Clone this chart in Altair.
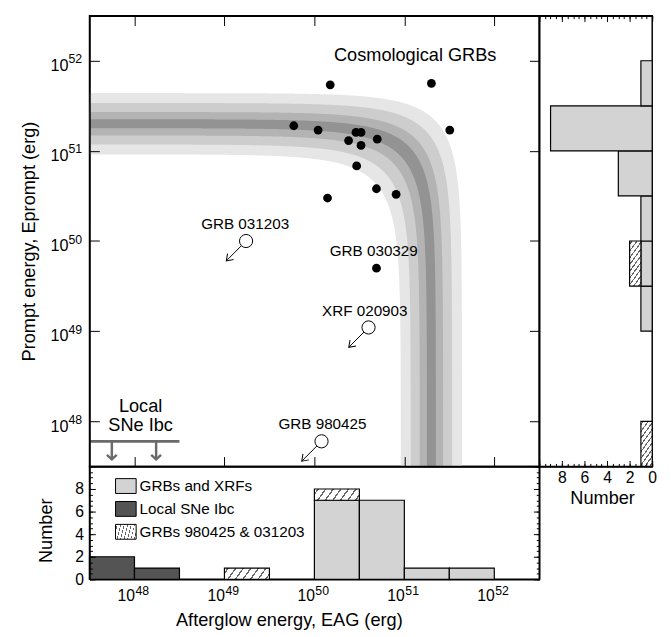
import json
import altair as alt
import numpy as np
import pandas as pd

# ---------------- values ----------------
# Cosmological GRBs (filled dots): afterglow energy, prompt energy (erg)
GRB_EAG = [1.5e50, 2.0e51, 5.9e49, 1.1e50, 2.9e50, 3.3e50, 2.4e50, 3.3e50,
           5.0e50, 3.2e51, 2.95e50, 4.9e50, 8.1e50, 1.4e50, 4.9e50]
GRB_EP = [5.4e51, 5.6e51, 1.9e51, 1.7e51, 1.6e51, 1.6e51, 1.3e51, 1.15e51,
          1.35e51, 1.7e51, 6.8e50, 3.8e50, 3.3e50, 3.0e50, 5.0e49]

# upper limits (open circles)
LIMIT_NAMES = ["GRB 031203", "XRF 020903", "GRB 980425"]
LIMIT_EAG = [1.74e49, 4.0e50, 1.2e50]
LIMIT_EP = [1.0e50, 1.1e49, 6.0e47]

# local SNe Ibc (upper limits)
SNE_EAG = [5.6e47, 1.74e48]
SNE_EP_LIMIT = 6.0e47
SNE_EAG_RANGE = [10 ** 47.5, 10 ** 48.5]

# total-energy band  (E_prompt + E_AG = const)
TOTAL_ENERGY = 2.0e51
BAND_HALF_WIDTH_DEX = [0.34, 0.23, 0.13, 0.05]
BAND_FILLS = ["#e6e6e6", "#cdcdcd", "#b3b3b3", "#939393"]

# histograms, bins of half a decade from 10^47.5 to 10^52.5
LOG_BIN_EDGES = [47.5, 48.0, 48.5, 49.0, 49.5, 50.0, 50.5, 51.0, 51.5, 52.0, 52.5]
AG_GRB_COUNTS = [0, 0, 0, 0, 0, 7, 7, 1, 1, 0]
AG_SNE_COUNTS = [2, 1, 0, 0, 0, 0, 0, 0, 0, 0]
AG_PEC_COUNTS = [0, 0, 0, 1, 0, 1, 0, 0, 0, 0]
PROMPT_GRB_COUNTS = [0, 0, 0, 1, 1, 1, 3, 9, 1, 0]
PROMPT_PEC_COUNTS = [1, 0, 0, 0, 1, 0, 0, 0, 0, 0]

CATS = ["GRBs and XRFs", "Local SNe Ibc", "GRBs 980425 & 031203"]

DECADES = [1e48, 1e49, 1e50, 1e51, 1e52]
COUNT_LABELS = [0, 2, 4, 6, 8]
COUNT_MAJOR = [0, 2, 4, 6, 8, 10]
COUNT_MINOR = [i * 0.5 for i in range(21)]

# annotation texts
BIG_TEXT = ["Cosmological GRBs", "Local", "SNe Ibc"]
BIG_EAG = [1.32e51, 1.17e48, 1.17e48]
BIG_EP = [1.14e52, 1.48e48, 9.1e47]
SMALL_TEXT = ["GRB 031203", "GRB 030329", "XRF 020903", "GRB 980425"]
SMALL_EAG = [1.7e49, 4.57e50, 3.63e50, 1.23e50]
SMALL_EP = [1.55e50, 7.8e49, 1.66e49, 9.3e47]

# ---------------- styling ----------------
FONT = "Liberation Sans"
W, H = 458, 459
SIDE_W = 115
BOT_H = 115
LOG_LO, LOG_HI = 47.5, 52.5
E_DOMAIN = [10 ** LOG_LO, 10 ** LOG_HI]
GRAY_BAR = "#d3d3d3"
DARK_BAR = "#545454"
SNE_GRAY = "#6a6a6a"
EXP_SIZE = 12.5


def hatch_stops(n, delta, line="#666666", bg="#ffffff"):
    stops = [{"offset": 0, "color": bg}]
    for k in range(n):
        t = (k + 0.5) / n
        stops += [{"offset": t - delta / 2, "color": bg},
                  {"offset": t - delta / 2, "color": line},
                  {"offset": t + delta / 2, "color": line},
                  {"offset": t + delta / 2, "color": bg}]
    stops.append({"offset": 1, "color": bg})
    return stops


HATCH_WIDE = {"gradient": "linear", "x1": 0, "y1": 0, "x2": 1.143, "y2": 0.206,
              "stops": hatch_stops(7, 0.03)}
HATCH_TALL = {"gradient": "linear", "x1": 0, "y1": 0, "x2": 0.413, "y2": 1.202,
              "stops": hatch_stops(9, 0.03)}


def escale():
    return alt.Scale(type="log", domain=E_DOMAIN, nice=False)


def inward(orient, offset, values, size, domain=True):
    return alt.Axis(orient=orient, offset=offset, values=values, tickSize=size,
                    tickWidth=1, tickColor="black", labels=False, domain=domain,
                    domainColor="black", domainWidth=1.5, grid=False, title=None,
                    zindex=3)


def xe(field):
    return alt.X(field, scale=escale(), axis=None)


def ye(field):
    return alt.Y(field, scale=escale(), axis=None)


decade_df = pd.DataFrame({"v": DECADES})
exp_base = alt.Chart(decade_df).transform_calculate(
    exp="'' + round(log(datum.v) / LN10)")

# ---------------- main panel ----------------
floor = 10 ** LOG_LO
grid = list(10 ** np.linspace(LOG_LO, LOG_HI, 600))
for w in BAND_HALF_WIDTH_DEX:
    for c in (TOTAL_ENERGY * 10 ** w, TOTAL_ENERGY / 10 ** w):
        grid += list(c - 10 ** np.linspace(LOG_LO, np.log10(c) - 0.004, 400))
grid = np.array(sorted(g for g in grid if floor <= g <= 10 ** LOG_HI))

main_y_labels = alt.Axis(orient="left", values=DECADES, labelExpr="'10'", ticks=False,
                         domain=False, grid=False, labelPadding=22, labelFontSize=16.5,
                         labelBaseline="alphabetic", labelOffset=10,
                         labelOverlap=False, labelFlush=False,
                         title="Prompt energy, Eprompt (erg)", titlePadding=12)
band_axes = [
    (inward("bottom", -H, DECADES, 10), main_y_labels),
    (inward("top", -H, DECADES, 10), inward("right", -W, DECADES, 10)),
    (None, inward("left", -W, DECADES, 10)),
    (None, None),
]

layers = []
for (w, col, (xa, ya)) in zip(BAND_HALF_WIDTH_DEX, BAND_FILLS, band_axes):
    chi = TOTAL_ENERGY * 10 ** w
    clo = TOTAL_ENERGY / 10 ** w
    g = grid[grid < chi]
    df = pd.DataFrame({"x": g,
                       "lo": np.maximum(clo - g, floor),
                       "hi": np.maximum(chi - g, floor)})
    layers.append(
        alt.Chart(df).mark_area(color=col, clip=True, orient="vertical", opacity=1).encode(
            x=alt.X("x:Q", scale=escale(), axis=xa),
            y=alt.Y("lo:Q", scale=escale(), axis=ya),
            y2="hi:Q",
        )
    )

# exponents of the y tick labels
layers.append(exp_base.mark_text(font=FONT, fontSize=EXP_SIZE, color="black",
                                 align="left", baseline="alphabetic", dy=2.6).encode(
    x=alt.value(-21.5), y=ye("v:Q"), text="exp:N"))

grb_df = pd.DataFrame({"eag": GRB_EAG, "ep": GRB_EP})
layers.append(alt.Chart(grb_df).mark_circle(size=80, color="black", opacity=1).encode(
    x=xe("eag:Q"), y=ye("ep:Q")))

lim_df = pd.DataFrame({"name": LIMIT_NAMES, "eag": LIMIT_EAG, "ep": LIMIT_EP})
lim_base = alt.Chart(lim_df).transform_calculate(
    tx="datum.eag * pow(10, -0.22)", ty="datum.ep * pow(10, -0.22)")
layers.append(lim_base.mark_rule(color="black", strokeWidth=1).encode(
    x=xe("eag:Q"), y=ye("ep:Q"), x2="tx:Q", y2="ty:Q"))
layers.append(lim_base.mark_point(shape="M-0.7,-1L0,0L0.7,-1", angle=45, size=150,
                                  filled=False, color="black", strokeWidth=1,
                                  opacity=1).encode(x=xe("tx:Q"), y=ye("ty:Q")))
layers.append(alt.Chart(lim_df).mark_point(shape="circle", size=180, filled=True,
                                           fill="white", stroke="black", strokeWidth=1,
                                           opacity=1).encode(x=xe("eag:Q"), y=ye("ep:Q")))

sne_line_df = pd.DataFrame({"x0": [SNE_EAG_RANGE[0]], "x1": [SNE_EAG_RANGE[1]],
                            "y": [SNE_EP_LIMIT]})
layers.append(alt.Chart(sne_line_df).mark_rule(color=SNE_GRAY, strokeWidth=2.8).encode(
    x=xe("x0:Q"), x2="x1:Q", y=ye("y:Q")))
sne_df = pd.DataFrame({"eag": SNE_EAG, "ep": [SNE_EP_LIMIT] * len(SNE_EAG)})
sne_base = alt.Chart(sne_df).transform_calculate(ty="datum.ep * pow(10, -0.2)")
layers.append(sne_base.mark_rule(color=SNE_GRAY, strokeWidth=2.5).encode(
    x=xe("eag:Q"), y=ye("ep:Q"), y2="ty:Q"))
layers.append(sne_base.mark_point(shape="M-1,-0.9L0,0L1,-0.9", size=100, filled=False,
                                  color=SNE_GRAY, strokeWidth=2.5, opacity=1).encode(
    x=xe("eag:Q"), y=ye("ty:Q")))

big_df = pd.DataFrame({"t": BIG_TEXT, "eag": BIG_EAG, "ep": BIG_EP})
layers.append(alt.Chart(big_df).mark_text(font=FONT, fontSize=18.5, color="black",
                                          align="center", baseline="middle").encode(
    x=xe("eag:Q"), y=ye("ep:Q"), text="t:N"))
small_df = pd.DataFrame({"t": SMALL_TEXT, "eag": SMALL_EAG, "ep": SMALL_EP})
layers.append(alt.Chart(small_df).mark_text(font=FONT, fontSize=15.5, color="black",
                                            align="center", baseline="middle").encode(
    x=xe("eag:Q"), y=ye("ep:Q"), text="t:N"))

main = alt.layer(*layers).resolve_axis(x="independent", y="independent").properties(
    width=W, height=H)

# ---------------- right histogram (prompt energy) ----------------
def rscale():
    return alt.Scale(domain=[0, 10], reverse=True, nice=False)


rows_g, rows_p = [], []
for i in range(len(LOG_BIN_EDGES) - 1):
    y0, y1 = 10 ** LOG_BIN_EDGES[i], 10 ** LOG_BIN_EDGES[i + 1]
    g, p = PROMPT_GRB_COUNTS[i], PROMPT_PEC_COUNTS[i]
    if g > 0:
        rows_g.append({"y0": y0, "y1": y1, "c0": 0, "c1": g})
    if p > 0:
        rows_p.append({"y0": y0, "y1": y1, "c0": g, "c1": g + p})

hold = pd.DataFrame({"c": [0, 10], "e": E_DOMAIN})

right_labels = alt.Axis(orient="bottom", values=COUNT_LABELS, ticks=False, domain=False,
                        grid=False, labelPadding=3, labelFontSize=16, labelFlush=False,
                        labelOverlap=False, title="Number", titlePadding=4, titleX=64)
r_layers = [
    alt.Chart(pd.DataFrame(rows_g)).mark_bar(fill=GRAY_BAR, stroke="black",
                                             strokeWidth=1.2, opacity=1).encode(
        x=alt.X("c1:Q", scale=rscale(), axis=right_labels), x2="c0:Q",
        y=ye("y0:Q"), y2="y1:Q"),
    alt.Chart(pd.DataFrame(rows_p)).mark_bar(fill=HATCH_TALL, stroke="black",
                                             strokeWidth=1.2, opacity=1).encode(
        x=alt.X("c1:Q", scale=rscale(), axis=inward("top", -H, COUNT_MAJOR, 6)),
        x2="c0:Q", y=ye("y0:Q"), y2="y1:Q"),
]
for ax in [inward("top", -H, COUNT_MINOR, 3, domain=False),
           inward("bottom", -H, COUNT_MAJOR, 6),
           inward("bottom", -H, COUNT_MINOR, 3, domain=False)]:
    r_layers.append(alt.Chart(hold).mark_point(opacity=0, size=0).encode(
        x=alt.X("c:Q", scale=rscale(), axis=ax), y=ye("e:Q")))
right = alt.layer(*r_layers).resolve_axis(x="independent", y="independent").properties(
    width=SIDE_W, height=H)

# ---------------- bottom histogram (afterglow energy) ----------------
def bscale():
    return alt.Scale(domain=[0, 10], nice=False)


rows_b = []
for i in range(len(LOG_BIN_EDGES) - 1):
    x0, x1 = 10 ** LOG_BIN_EDGES[i], 10 ** LOG_BIN_EDGES[i + 1]
    base = 0
    for cat, counts in zip(CATS, [AG_GRB_COUNTS, AG_SNE_COUNTS, AG_PEC_COUNTS]):
        c = counts[i]
        if c > 0:
            rows_b.append({"x0": x0, "x1": x1, "y0": base, "y1": base + c, "cat": cat})
            base += c

bottom_x_labels = alt.Axis(orient="bottom", values=DECADES, labelExpr="'10'", ticks=False,
                           domain=True, domainColor="black", domainWidth=1.5, grid=False,
                           labelPadding=9, labelFontSize=16, labelAlign="right",
                           labelFlush=False, labelOverlap=False,
                           title="Afterglow energy, EAG (erg)",
                           titlePadding=7, titleX=203, zindex=3)
bottom_y_labels = alt.Axis(orient="left", values=COUNT_LABELS, ticks=False, domain=False,
                           grid=False, labelPadding=6, labelFontSize=16, labelFlush=False,
                           labelOverlap=False, title="Number", titlePadding=20, titleY=65)
legend = alt.Legend(orient="none", legendX=26, legendY=9, title=None,
                    symbolType="M-1,-0.72H1V0.72H-1Z", symbolSize=441,
                    symbolStrokeColor="black", symbolStrokeWidth=1, symbolOpacity=1,
                    labelFontSize=15.5, labelFont=FONT, labelColor="black",
                    labelLimit=400, rowPadding=2.3, labelOffset=3, padding=0)
b_layers = [
    alt.Chart(pd.DataFrame(rows_b)).mark_bar(stroke="black", strokeWidth=1.2,
                                             opacity=1).encode(
        x=alt.X("x0:Q", scale=escale(), axis=bottom_x_labels), x2="x1:Q",
        y=alt.Y("y1:Q", scale=bscale(), axis=bottom_y_labels), y2="y0:Q",
        fill=alt.Fill("cat:N", scale=alt.Scale(
            domain=CATS,
            range=[GRAY_BAR, DARK_BAR, {"expr": json.dumps(HATCH_WIDE)}]),
            legend=legend),
    ),
    # exponents of the x tick labels
    exp_base.mark_text(font=FONT, fontSize=EXP_SIZE, color="black", align="left",
                       baseline="alphabetic", dx=1).encode(
        x=xe("v:Q"), y=alt.value(BOT_H + 15.5), text="exp:N"),
]
for ax in [inward("right", -W, COUNT_MAJOR, 6),
           inward("right", -W, COUNT_MINOR, 3, domain=False),
           inward("left", -W, COUNT_MAJOR, 6),
           inward("left", -W, COUNT_MINOR, 3, domain=False)]:
    b_layers.append(alt.Chart(hold).mark_point(opacity=0, size=0).encode(
        x=xe("e:Q"), y=alt.Y("c:Q", scale=bscale(), axis=ax)))
bottom = alt.layer(*b_layers).resolve_axis(x="independent", y="independent").properties(
    width=W, height=BOT_H)

# ---------------- assemble ----------------
chart = alt.concat(main, right, bottom, columns=2, spacing=0, bounds="flush").resolve_scale(
    fill="independent"
).properties(
    padding={"left": 10, "top": 0, "right": 5, "bottom": 5}
).configure(font=FONT).configure_view(stroke="black", strokeWidth=1.5).configure_axis(
    labelColor="black", titleColor="black", labelFont=FONT, titleFont=FONT,
    titleFontSize=18.5, titleFontWeight="normal", labelFontWeight="normal"
)

chart.save("out.html", embed_options={"renderer": "svg", "actions": False})
